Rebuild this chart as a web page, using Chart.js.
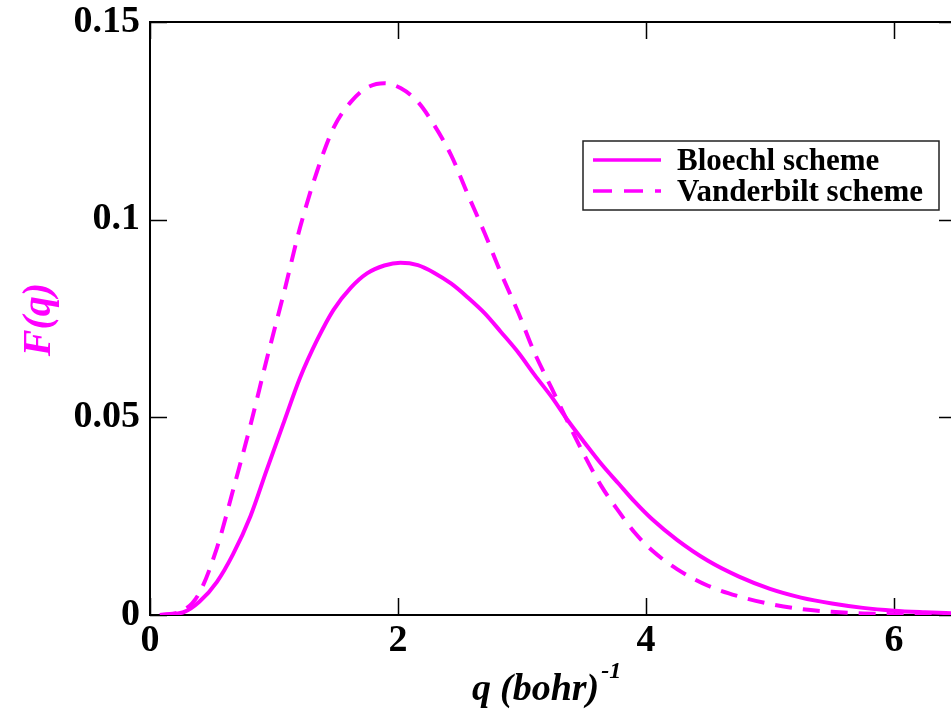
<!DOCTYPE html>
<html>
<head>
<meta charset="utf-8">
<script src="https://cdn.jsdelivr.net/npm/chart.js@4"></script>
<style>
  body { margin: 0; overflow: hidden; background: #fff; }
  canvas { display: block; }
</style>
</head>
<body>
<canvas id="myChart" width="960" height="710"></canvas>
<script>
// values
const qValues = [0.08, 0.27, 0.40, 0.54, 0.67, 0.81, 0.94, 1.08, 1.21, 1.35, 1.48, 1.62, 1.75, 1.89, 2.02, 2.16, 2.29, 2.43, 2.56, 2.70, 2.83, 2.97, 3.10, 3.24, 3.37, 3.51, 3.64, 3.78, 3.91, 4.05, 4.25, 4.5, 4.75, 5.0, 5.25, 5.5, 5.75, 6.0, 6.25, 6.5];
const bloechl = [0, 0.0007, 0.0034, 0.0084, 0.0154, 0.0250, 0.0366, 0.0488, 0.0600, 0.0697, 0.0772, 0.0828, 0.0864, 0.0884, 0.0891, 0.0885, 0.0866, 0.0838, 0.0804, 0.0763, 0.0716, 0.0664, 0.0608, 0.0551, 0.0492, 0.0434, 0.0382, 0.0332, 0.0286, 0.0242, 0.0190, 0.0137, 0.0097, 0.0066, 0.0044, 0.0029, 0.0018, 0.0011, 0.0007, 0.0004];
const vanderbilt = [0, 0.0012, 0.0057, 0.0170, 0.0316, 0.0480, 0.0645, 0.0815, 0.0980, 0.1125, 0.1232, 0.1298, 0.1334, 0.1345, 0.1333, 0.1298, 0.1240, 0.1162, 0.1066, 0.0965, 0.0865, 0.0765, 0.0664, 0.0573, 0.0488, 0.0400, 0.0326, 0.0262, 0.0208, 0.0163, 0.0116, 0.0074, 0.0047, 0.0028, 0.0015, 0.0008, 0.0004, 0.0002, 0.0001, 0];
const seriesNames = ['Bloechl scheme', 'Vanderbilt scheme'];
const xTicks = [0, 2, 4, 6];
const yTicks = [0, 0.05, 0.1, 0.15];
const yTickLabels = ['0', '0.05', '0.1', '0.15'];

const magenta = '#ff00ff';
const serif = '"Liberation Serif", "Times New Roman", serif';

function toPoints(ys) {
    return qValues.map((q, i) => ({ x: q, y: ys[i] }));
}

// frame with inward ticks on all four sides, legend and axis titles
const framePlugin = {
    id: 'frame',
    beforeDatasetsDraw(chart) {
        const { ctx, chartArea: a, scales } = chart;
        ctx.save();
        ctx.strokeStyle = '#000';
        ctx.lineWidth = 1.5;
        xTicks.forEach(v => {
            const px = Math.round(scales.x.getPixelForValue(v)) + 0.5;
            ctx.beginPath();
            ctx.moveTo(px, a.bottom); ctx.lineTo(px, a.bottom - 17);
            ctx.moveTo(px, a.top); ctx.lineTo(px, a.top + 17);
            ctx.stroke();
        });
        yTicks.forEach(v => {
            const py = Math.round(scales.y.getPixelForValue(v)) + 0.5;
            ctx.beginPath();
            ctx.moveTo(a.left, py); ctx.lineTo(a.left + 17, py);
            ctx.moveTo(a.right, py); ctx.lineTo(a.right - 17, py);
            ctx.stroke();
        });
        ctx.lineWidth = 2;
        ctx.strokeRect(a.left, a.top, a.right - a.left, a.bottom - a.top);
        ctx.restore();
    },
    afterDraw(chart) {
        const { ctx, chartArea: a } = chart;
        ctx.save();
        // legend box
        const lx = 583, ly = 141, lw = 356, lh = 69;
        ctx.fillStyle = '#fff';
        ctx.fillRect(lx, ly, lw, lh);
        ctx.strokeStyle = '#222';
        ctx.lineWidth = 1.5;
        ctx.strokeRect(lx, ly, lw, lh);
        ctx.strokeStyle = magenta;
        ctx.lineWidth = 3.5;
        ctx.beginPath();
        ctx.moveTo(lx + 10, ly + 19); ctx.lineTo(lx + 78, ly + 19);
        ctx.stroke();
        ctx.setLineDash([19, 12]);
        ctx.beginPath();
        ctx.moveTo(lx + 10, ly + 50); ctx.lineTo(lx + 78, ly + 50);
        ctx.stroke();
        ctx.setLineDash([]);
        ctx.fillStyle = '#000';
        ctx.font = 'bold 31px ' + serif;
        ctx.textBaseline = 'alphabetic';
        ctx.textAlign = 'left';
        ctx.fillText(seriesNames[0], lx + 94, ly + 29);
        ctx.fillText(seriesNames[1], lx + 94, ly + 60);

        // x title: q  (bohr)^-1
        ctx.font = 'bold italic 38px ' + serif;
        const x0 = 472;
        const base = 700;
        ctx.fillText('q', x0, base);
        ctx.fillText('(bohr)', x0 + 28, base);
        const w = ctx.measureText('(bohr)').width;
        ctx.font = 'bold italic 24px ' + serif;
        ctx.fillText('-1', x0 + 28 + w + 2, base - 22);

        // y title
        ctx.translate(40, (a.top + a.bottom) / 2 + 1);
        ctx.rotate(-Math.PI / 2);
        ctx.font = 'bold italic 40px ' + serif;
        ctx.fillStyle = magenta;
        ctx.textAlign = 'center';
        ctx.textBaseline = 'middle';
        ctx.fillText('F(q)', 0, 0);
        ctx.restore();
    }
};

const ctx = document.getElementById('myChart');
new Chart(ctx, {
    type: 'line',
    data: {
        datasets: [{
            label: seriesNames[0],
            data: toPoints(bloechl),
            borderColor: magenta,
            borderWidth: 4,
            pointRadius: 0,
            cubicInterpolationMode: 'monotone',
            fill: false
        }, {
            label: seriesNames[1],
            data: toPoints(vanderbilt),
            borderColor: magenta,
            borderWidth: 4,
            borderDash: [17, 11],
            pointRadius: 0,
            cubicInterpolationMode: 'monotone',
            fill: false
        }]
    },
    options: {
        responsive: false,
        animation: false,
        events: [],
        layout: { padding: { top: 22, right: 4, left: 0, bottom: 0 } },
        plugins: { legend: { display: false }, tooltip: { enabled: false } },
        scales: {
            x: {
                type: 'linear',
                min: 0,
                max: 6.5,
                afterBuildTicks: s => { s.ticks = xTicks.map(v => ({ value: v })); },
                afterFit: s => { s.height = 95; s.paddingLeft = 0; s.paddingRight = 0; },
                grid: { display: false, drawTicks: false },
                border: { display: false },
                ticks: {
                    color: '#000',
                    padding: 3,
                    maxRotation: 0,
                    font: { family: serif, size: 38, weight: 'bold' },
                    callback: v => String(v)
                }
            },
            y: {
                min: 0,
                max: 0.15,
                afterBuildTicks: s => { s.ticks = yTicks.map(v => ({ value: v })); },
                afterFit: s => { s.width = 150; s.paddingTop = 0; s.paddingBottom = 0; },
                grid: { display: false, drawTicks: false },
                border: { display: false },
                ticks: {
                    color: '#000',
                    padding: 10,
                    font: { family: serif, size: 38, weight: 'bold' },
                    callback: (v, i) => yTickLabels[i]
                }
            }
        }
    },
    plugins: [framePlugin]
});
</script>
</body>
</html>
